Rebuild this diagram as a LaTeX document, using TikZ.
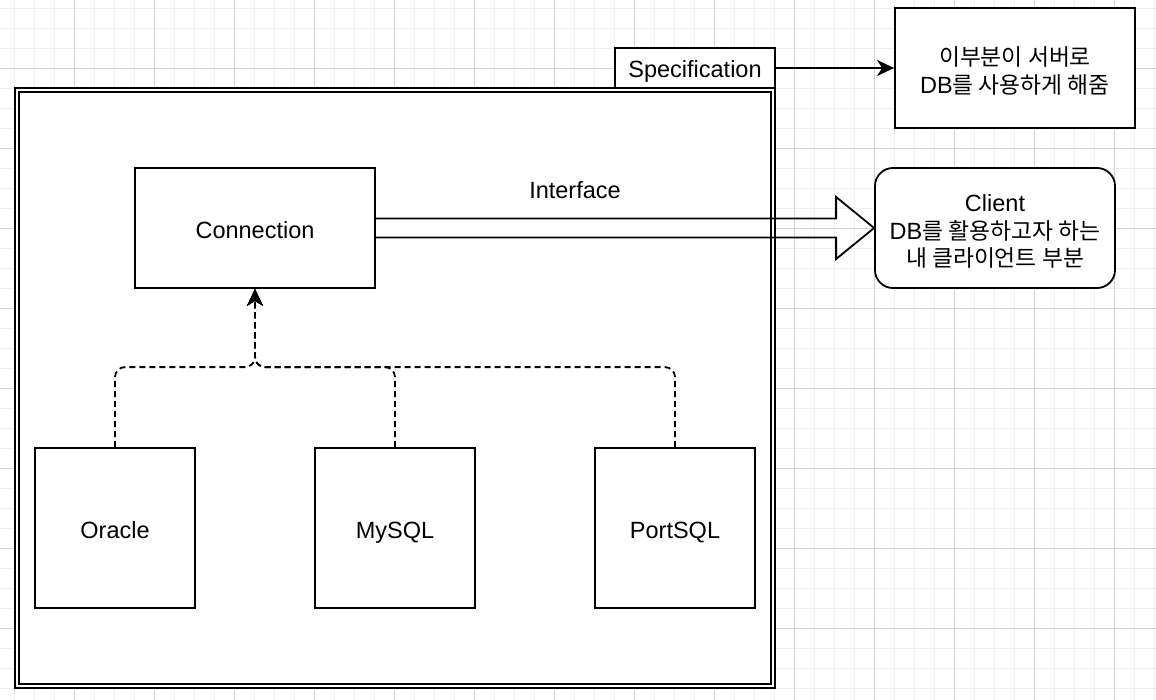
\documentclass[tikz,border=0pt]{standalone}
\usepackage{fontspec}
\setmainfont{Liberation Sans}
\newfontfamily\kr{Noto Sans CJK KR}
\usetikzlibrary{arrows.meta,calc}
\definecolor{gminor}{HTML}{F0F0F0}
\definecolor{gmajor}{HTML}{D2D2D2}
\newcommand\K[1]{{\kr\fontsize{22.8}{27.5}\selectfont #1}}
\begin{document}
\begin{tikzpicture}[x=1pt,y=-1pt,
  lbl/.style={inner sep=0pt, align=center, font=\fontsize{23.5}{27.5}\selectfont},
  box/.style={draw, line width=1.8pt, fill=white, inner sep=0pt},
  conn/.style={line width=1.8pt, dash pattern=on 6pt off 4pt, rounded corners=10pt,
    -{Stealth[length=17pt,width=16pt,inset=5pt]}},
  solidarrow/.style={line width=1.8pt, -{Stealth[length=17pt,width=16pt,inset=5pt]}},
  gridminor/.style={gminor, line width=1pt},
  gridmajor/.style={gmajor, line width=1pt}]
\useasboundingbox (0,0) rectangle (1156,700);
\fill[white] (0,0) rectangle (1156,700);
% grid
\foreach \i in {0,...,57} \draw[gridminor] (14.7+20*\i,0) -- (14.7+20*\i,700);
\foreach \i in {0,...,34} \draw[gridminor] (0,8.3+20*\i) -- (1156,8.3+20*\i);
\foreach \i in {1,...,14} \draw[gridmajor] (-5.3+80*\i,0) -- (-5.3+80*\i,700);
\foreach \i in {0,...,7} \draw[gridmajor] (0,68.3+80*\i) -- (1156,68.3+80*\i);
% container
\node[draw, fill=white, line width=1.8pt, double, double distance=2.2pt,
  minimum width=756pt, minimum height=596pt, inner sep=0pt] (container) at (395,388) {};
% boxes
\node[box, minimum width=160pt, minimum height=40pt] (spec) at (695,68) {};
\node[box, minimum width=240pt, minimum height=120pt] (server) at (1015,68) {};
\node[box, minimum width=240pt, minimum height=120pt] (cn) at (255,228) {};
\node[box, rounded corners=18pt, minimum width=240pt, minimum height=120pt] (client) at (995,228) {};
\node[box, minimum width=160pt, minimum height=160pt] (oracle) at (115,528) {};
\node[box, minimum width=160pt, minimum height=160pt] (mysql) at (395,528) {};
\node[box, minimum width=160pt, minimum height=160pt] (port) at (675,528) {};
% texts
\node[lbl] (spec-t) at ([yshift=-3.5pt]spec.center) {Specification};
\node[lbl] (server-t) at ([yshift=-3pt]server.center) {\K{이부분이 서버로}\\DB\K{를 사용하게 해줌}};
\node[lbl] (cn-t) at ([yshift=-2pt]cn.center) {Connection};
\node[lbl] (client-t) at ([yshift=-3.5pt]client.center)
  {Client\\DB\K{를 활용하고자 하는}\\\K{내 클라이언트 부분}};
\node[lbl] (oracle-t) at ([yshift=-2pt]oracle.center) {Oracle};
\node[lbl] (mysql-t) at ([yshift=-4.5pt]mysql.center) {MySQL};
\node[lbl] (port-t) at ([yshift=-4.5pt]port.center) {PortSQL};
\node[lbl] (iface) at (575,190) {Interface};
% connectors
\draw[solidarrow] (spec.east) -- (server.west);
\draw[line width=1.8pt, line join=miter]
  ($(cn.east)+(0,-9.5)$) -- ($(client.west)+(-38,-9.5)$) -- ($(client.west)+(-38,-31)$)
  -- (client.west) -- ($(client.west)+(-38,31)$) -- ($(client.west)+(-38,9.5)$)
  -- ($(cn.east)+(0,9.5)$);
\draw[conn] (oracle.north) -- ++(0,-80) -| (cn.south);
\draw[conn] (mysql.north) -- ++(0,-80) -| (cn.south);
\draw[conn] (port.north) -- ++(0,-80) -| (cn.south);
\end{tikzpicture}
\end{document}
